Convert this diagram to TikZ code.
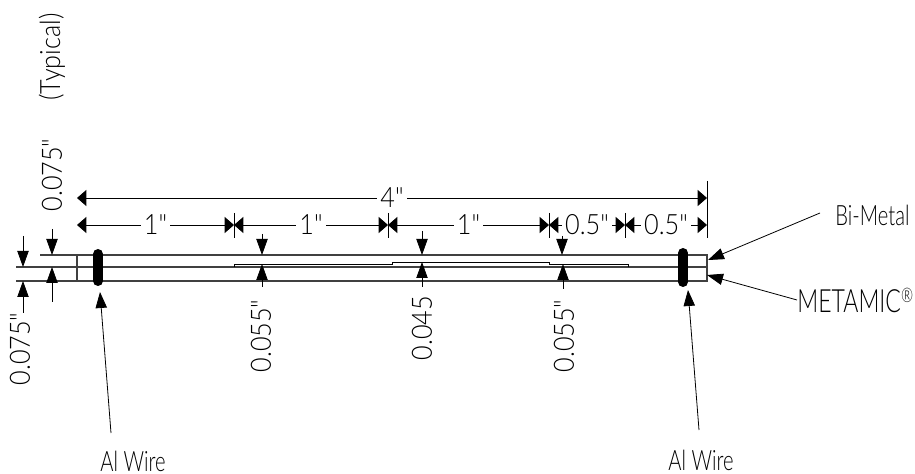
\documentclass[tikz,border=0pt]{standalone}
\usepackage{fontspec}
\setmainfont{Lato}[UprightFont=* Light]
\newfontfamily\sizefont{Lato}[UprightFont=* Light,FakeStretch=0.9]
\newfontfamily\labelfont{Lato}[UprightFont=* Light,FakeStretch=0.72]
\usepackage{tikz}
\usetikzlibrary{arrows.meta}

\begin{document}
\begin{tikzpicture}[x=0.75pt,y=-0.75pt,>={Triangle[width=8.5pt,length=12pt]},line width=0.6pt,
	dim node/.style={font=\sizefont\fontsize{21}{21}\selectfont,fill=white,inner sep=2.5pt},
	size node/.style={font=\sizefont\fontsize{21}{21}\selectfont,rotate=90,inner sep=0pt},
	name node/.style={font=\labelfont\fontsize{21}{21}\selectfont,inner sep=0pt},
	hdim/.style={{Triangle[width=12pt,length=7pt]}-{Triangle[width=12pt,length=7pt]}},
	strip/.style={line width=0.9pt,black!75},
	wire/.style={line width=7.5pt,line cap=round}]
	\useasboundingbox (0,0) rectangle (915,474);
	% strip
	\coordinate (tl) at (40,255);
	\coordinate (tc) at (77,255);
	\coordinate (tr) at (707,255);
	\coordinate (ml) at (16,267);
	\coordinate (mr) at (707,267);
	\coordinate (bl) at (16,281);
	\coordinate (bc) at (77,281);
	\coordinate (br) at (707,281);
	\draw[strip] (tl) -- (tr) -- (br) -- (bl);
	\draw[strip] (ml) -- (mr);
	\draw[strip] (tc) -- (bc);
	% bi-metal layer
	\coordinate (la) at (234,267);
	\coordinate (lb) at (234,264);
	\coordinate (lc) at (392,264);
	\coordinate (ld) at (392,262);
	\coordinate (le) at (549,262);
	\coordinate (lf) at (549,264);
	\coordinate (lg) at (628,264);
	\coordinate (lh) at (628,267);
	\draw (la) -- (lb) -- (lc) -- (ld) -- (le) -- (lf) -- (lg) -- (lh);
	% wires
	\coordinate (wa) at (98,254);
	\coordinate (wb) at (98,281);
	\coordinate (wc) at (683,253);
	\coordinate (wd) at (683,282);
	\draw[wire] (wa) -- (wb);
	\draw[wire] (wc) -- (wd);
	% length dimensions
	\coordinate (p0) at (77,198);
	\coordinate (p1) at (707,198);
	\coordinate (q0) at (77,225);
	\coordinate (q1) at (234,225);
	\coordinate (q2) at (388,225);
	\coordinate (q3) at (549,225);
	\coordinate (q4) at (625,225);
	\coordinate (q5) at (707,225);
	\draw[hdim] (p0) -- node[dim node] (len4) {4"} (p1);
	\draw[hdim] (q0) -- node[dim node] (len1a) {1"} (q1);
	\draw[hdim] (q1) -- node[dim node] (len1b) {1"} (q2);
	\draw[hdim] (q2) -- node[dim node] (len1c) {1"} (q3);
	\draw[hdim] (q3) -- node[dim node] (len5a) {0.5"} (q4);
	\draw[hdim] (q4) -- node[dim node] (len5b) {0.5"} (q5);
	% ticks
	\foreach \name/\px in {a/234,b/388,c/549,d/625}{
		\coordinate (s\name) at (\px,213);
		\coordinate (e\name) at (\px,238);
		\draw (s\name) -- (e\name);
	}
	\coordinate (se) at (707,181);
	\coordinate (ee) at (707,238);
	\draw (se) -- (ee);
	% thickness dimensions
	\coordinate (ta) at (262,234);
	\coordinate (tb) at (262,255);
	\coordinate (tc2) at (262,264);
	\coordinate (td) at (262,287);
	\coordinate (te) at (422,231);
	\coordinate (tf) at (422,255);
	\coordinate (tg) at (422,262);
	\coordinate (th) at (422,287);
	\coordinate (ti) at (562,236);
	\coordinate (tj) at (562,255);
	\coordinate (tk) at (563,264);
	\coordinate (tl2) at (563,289);
	\draw[->] (ta) -- (tb);
	\draw[->] (td) -- (tc2);
	\draw[->] (te) -- (tf);
	\draw[->] (th) -- (tg);
	\draw[->] (ti) -- (tj);
	\draw[->] (tl2) -- (tk);
	\node[size node] (t055a) at (261,336) {0.055"};
	\node[size node] (t045) at (422,328) {0.045};
	\node[size node] (t055b) at (564,336) {0.055"};
	% left end
	\coordinate (ua) at (52,229);
	\coordinate (ub) at (52,255);
	\coordinate (uc) at (52,302);
	\coordinate (ud) at (52,267);
	\coordinate (va) at (23,236);
	\coordinate (vb) at (23,267);
	\coordinate (vc) at (23,313);
	\coordinate (vd) at (23,281);
	\draw[->] (ua) -- (ub);
	\draw[->] (uc) -- (ud);
	\draw[->] (va) -- (vb);
	\draw[->] (vc) -- (vd);
	\node[size node] (upper) at (52,175) {0.075"};
	\node[size node] (typical) at (52,57) {(Typical)};
	\node[size node] (lower) at (20,349) {0.075"};
	% names
	\node[name node] (alwire1) at (133,461) {Al Wire};
	\node[name node] (alwire2) at (701,460) {Al Wire};
	\node[name node,anchor=west] (bimetal) at (835,215) {Bi-Metal};
	\node[name node,anchor=base west,font=\labelfont\fontsize{24}{24}\selectfont] (metamic) at (797,313) {METAMIC\raisebox{0.33em}{\fontsize{15}{15}\selectfont\textregistered}};
	\coordinate (aw1) at (111,433);
	\coordinate (aw2) at (100,292);
	\coordinate (aw3) at (699,430);
	\coordinate (aw4) at (688,290);
	\coordinate (bm1) at (820,213);
	\coordinate (bm2) at (708,260);
	\coordinate (mm1) at (797,300);
	\coordinate (mm2) at (707,275);
	\draw[->] (aw1) -- (aw2);
	\draw[->] (aw3) -- (aw4);
	\draw[->] (bm1) -- (bm2);
	\draw[->] (mm1) -- (mm2);
\end{tikzpicture}
\end{document}
